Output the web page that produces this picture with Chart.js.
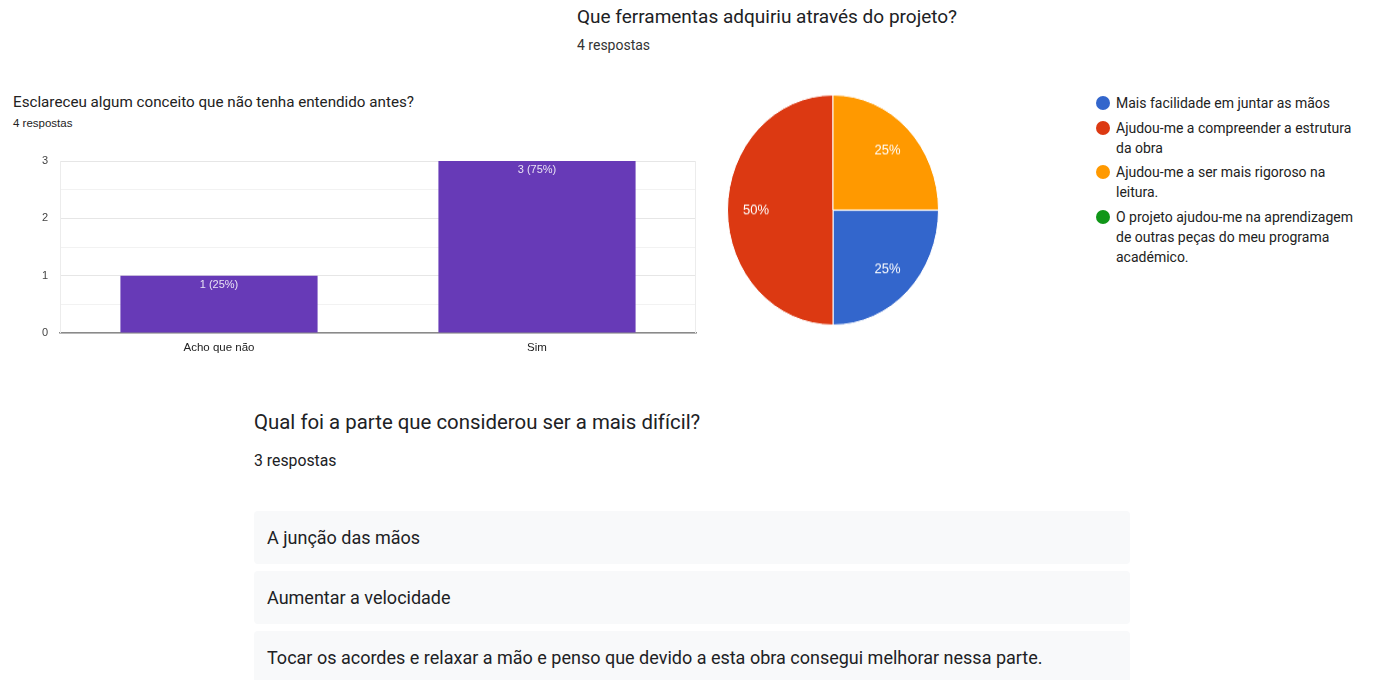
<!DOCTYPE html>
<html lang="pt">
<head>
<meta charset="utf-8">
<script src="https://cdn.jsdelivr.net/npm/chart.js@4"></script>
<style>
  body { margin: 0; background: #fff; width: 1376px; height: 680px; overflow: hidden; position: relative; font-family: Roboto, Arial, sans-serif; color: #202124; }
  .abs { position: absolute; }
  #tituloBarra { left: 13px; top: 93px; font: 15.2px Roboto, Arial, sans-serif; color: #222; }
  #respBarra { left: 13px; top: 117px; font: 11.5px Arial, "Liberation Sans", sans-serif; color: #222; }
  #graficoBarra { left: 0; top: 140px; }
  #tituloPizza { left: 577px; top: 5px; font: 19px Roboto, Arial, sans-serif; }
  #respPizza { left: 577px; top: 37px; font: 14px Roboto, Arial, sans-serif; color: #333; }
  #graficoPizza { left: 713px; top: 90px; transform: scaleY(1.09); transform-origin: 120px 120px; }
  #legenda { left: 1096px; top: 93px; width: 267px; font: 14px Roboto, Arial, sans-serif; color: #222; line-height: 20px; }
  #legenda .item { display: flex; margin-bottom: 4.5px; }
  #legenda .ponto { width: 14px; height: 14px; border-radius: 50%; flex: none; margin: 3px 6px 0 0; }
  #tituloLista { left: 254px; top: 410px; font: 20.4px Roboto, Arial, sans-serif; }
  #respLista { left: 254px; top: 451px; font: 15.8px Roboto, Arial, sans-serif; }
  #lista { left: 254px; top: 511px; width: 876px; }
  #lista .resp { background: #f8f9fa; border-radius: 4px; height: 53px; margin-bottom: 7px; box-sizing: border-box; padding-left: 13px; display: flex; align-items: center; font: 18px Roboto, Arial, sans-serif; color: #202124; }
</style>
</head>
<body>
<div class="abs" id="tituloBarra"></div>
<div class="abs" id="respBarra"></div>
<canvas class="abs" id="graficoBarra" width="710" height="220"></canvas>

<div class="abs" id="tituloPizza"></div>
<div class="abs" id="respPizza"></div>
<canvas class="abs" id="graficoPizza" width="240" height="240"></canvas>
<div class="abs" id="legenda"></div>

<div class="abs" id="tituloLista"></div>
<div class="abs" id="respLista"></div>
<div class="abs" id="lista"></div>

<script>
// pergunta 1 - barras
const tituloBarra = "Esclareceu algum conceito que não tenha entendido antes?";
const categoriasBarra = ["Acho que não", "Sim"];
const valoresBarra = [1, 3];

// pergunta 2 - pizza
const tituloPizza = "Que ferramentas adquiriu através do projeto?";
const categoriasPizza = [
    "Mais facilidade em juntar as mãos",
    "Ajudou-me a compreender a estrutura da obra",
    "Ajudou-me a ser mais rigoroso na leitura.",
    "O projeto ajudou-me na aprendizagem de outras peças do meu programa académico."
];
const valoresPizza = [1, 2, 1, 0];
const coresPizza = ["#3366cc", "#dc3912", "#ff9900", "#109618"];

// pergunta 3 - respostas abertas
const tituloLista = "Qual foi a parte que considerou ser a mais difícil?";
const respostasLista = [
    "A junção das mãos",
    "Aumentar a velocidade",
    "Tocar os acordes e relaxar a mão e penso que devido a esta obra consegui melhorar nessa parte."
];

const soma = arr => arr.reduce((a, b) => a + b, 0);

document.getElementById("tituloBarra").textContent = tituloBarra;
document.getElementById("respBarra").textContent = soma(valoresBarra) + " respostas";
document.getElementById("tituloPizza").textContent = tituloPizza;
document.getElementById("respPizza").textContent = "4 respostas";
document.getElementById("tituloLista").textContent = tituloLista;
document.getElementById("respLista").textContent = respostasLista.length + " respostas";

const lista = document.getElementById("lista");
respostasLista.forEach(function (r) {
    const d = document.createElement("div");
    d.className = "resp";
    d.textContent = r;
    lista.appendChild(d);
});

const legenda = document.getElementById("legenda");
categoriasPizza.forEach(function (nome, i) {
    const item = document.createElement("div");
    item.className = "item";
    item.innerHTML = '<span class="ponto" style="background:' + coresPizza[i] + '"></span><span></span>';
    item.lastChild.textContent = nome;
    legenda.appendChild(item);
});

// rótulos dentro das barras
const rotulosBarra = {
    id: "rotulosBarra",
    afterDatasetsDraw(chart) {
        const ctx = chart.ctx;
        const total = soma(valoresBarra);
        ctx.save();
        ctx.font = "11px Arial, 'Liberation Sans', sans-serif";
        ctx.fillStyle = "rgba(255,255,255,0.85)";
        ctx.textAlign = "center";
        ctx.textBaseline = "middle";
        chart.getDatasetMeta(0).data.forEach(function (el, i) {
            const v = valoresBarra[i];
            ctx.fillText(v + " (" + Math.round(v / total * 100) + "%)", el.x, el.y + 9);
        });
        ctx.restore();
    }
};

// moldura clara do gráfico
const moldura = {
    id: "moldura",
    beforeDatasetsDraw(chart) {
        const a = chart.chartArea;
        const ctx = chart.ctx;
        ctx.save();
        ctx.strokeStyle = "#ececec";
        ctx.lineWidth = 1;
        ctx.beginPath();
        ctx.moveTo(a.left + 0.5, a.top);
        ctx.lineTo(a.left + 0.5, a.bottom);
        ctx.moveTo(a.right - 0.5, a.top);
        ctx.lineTo(a.right - 0.5, a.bottom);
        ctx.stroke();
        ctx.restore();
    }
};

new Chart(document.getElementById("graficoBarra").getContext("2d"), {
    type: "bar",
    data: {
        labels: categoriasBarra,
        datasets: [{
            data: valoresBarra,
            backgroundColor: "#673ab7",
            borderWidth: 0,
            categoryPercentage: 1,
            barPercentage: 0.62
        }]
    },
    options: {
        responsive: false,
        animation: false,
        layout: { padding: { top: 21, right: 14, left: 0, bottom: 0 } },
        plugins: { legend: { display: false }, tooltip: { enabled: false } },
        scales: {
            x: {
                grid: { display: false },
                border: { display: true, color: "#8a8a8a", width: 1.5 },
                ticks: { color: "#222", padding: 0, font: { family: "Arial", size: 11.5 } },
                afterFit: function (s) { s.height = 27; }
            },
            y: {
                min: 0,
                max: 3,
                border: { display: false },
                grid: {
                    drawTicks: false,
                    color: function (c) { return c.tick && Number.isInteger(c.tick.value) ? "#e6e6e6" : "#f2f2f2"; }
                },
                ticks: {
                    stepSize: 0.5,
                    padding: 12,
                    color: "#444",
                    font: { family: "Arial", size: 11 },
                    callback: function (v) { return Number.isInteger(v) ? v : ""; }
                },
                afterFit: function (s) { s.width = 60; }
            }
        }
    },
    plugins: [moldura, rotulosBarra]
});

// percentagens dentro das fatias
const rotulosPizza = {
    id: "rotulosPizza",
    afterDatasetsDraw(chart) {
        const ctx = chart.ctx;
        const total = soma(valoresPizza);
        ctx.save();
        ctx.font = "13px Arial, 'Liberation Sans', sans-serif";
        ctx.fillStyle = "#fff";
        ctx.textAlign = "center";
        ctx.textBaseline = "middle";
        chart.getDatasetMeta(0).data.forEach(function (el, i) {
            const v = valoresPizza[i];
            if (!v) return;
            const ang = (el.startAngle + el.endAngle) / 2;
            const r = el.outerRadius * 0.73;
            ctx.fillText(Math.round(v / total * 100) + "%", el.x + Math.cos(ang) * r, el.y + Math.sin(ang) * r);
        });
        ctx.restore();
    }
};

new Chart(document.getElementById("graficoPizza").getContext("2d"), {
    type: "pie",
    data: {
        labels: categoriasPizza,
        datasets: [{
            data: valoresPizza,
            backgroundColor: coresPizza,
            borderColor: "#fff",
            borderWidth: 1
        }]
    },
    options: {
        responsive: false,
        animation: false,
        rotation: 90,
        layout: { padding: 14 },
        plugins: { legend: { display: false }, tooltip: { enabled: false } }
    },
    plugins: [rotulosPizza]
});
</script>
</body>
</html>
